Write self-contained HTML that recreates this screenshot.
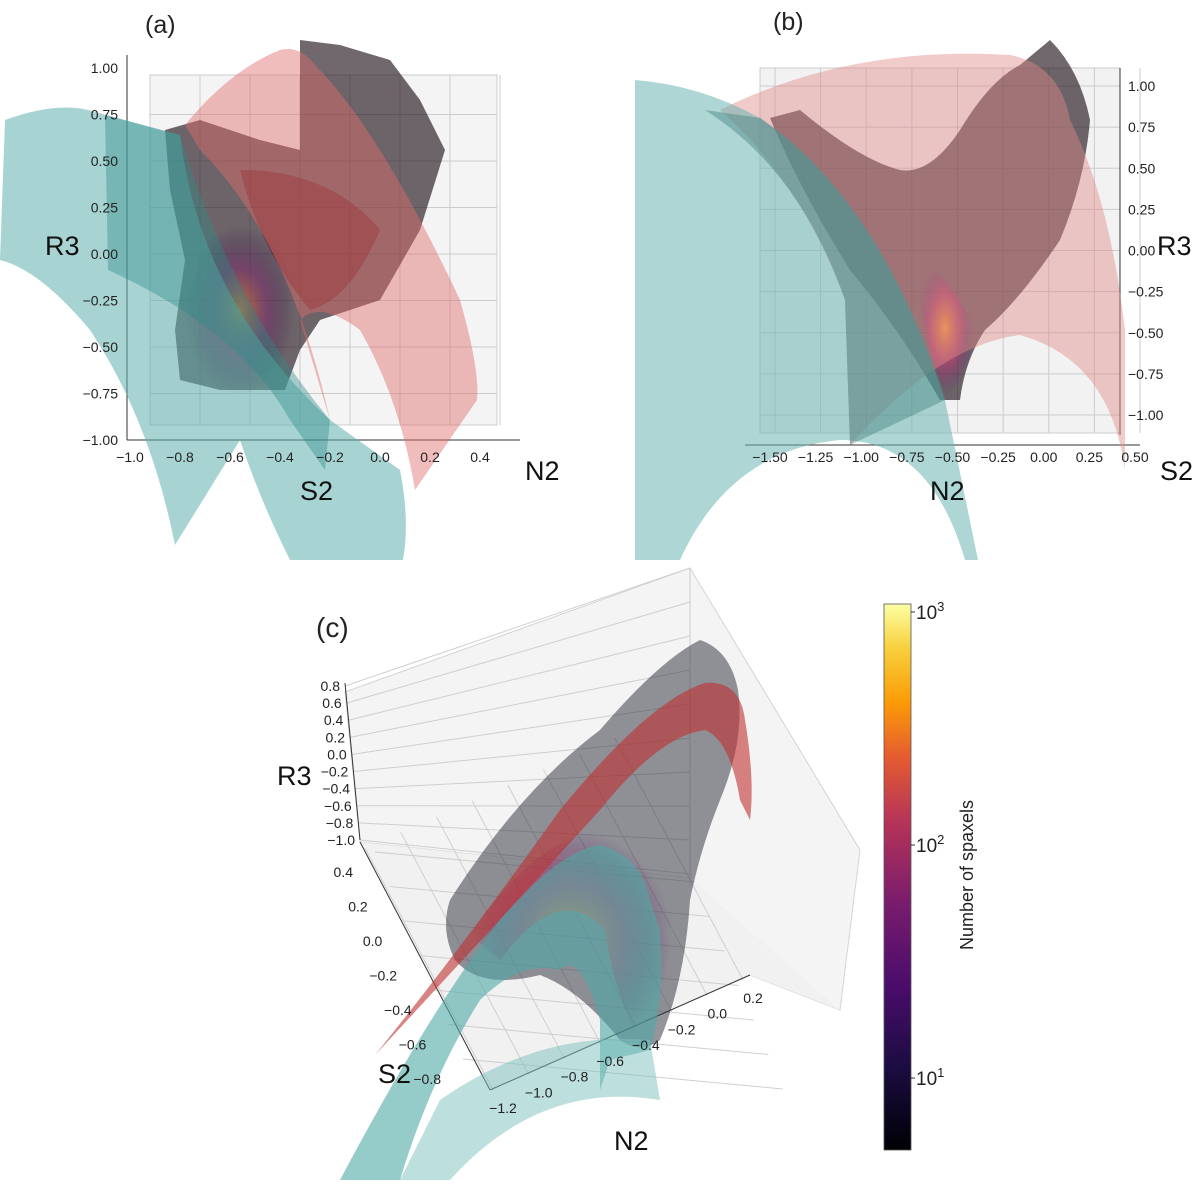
<!DOCTYPE html>
<html><head><meta charset="utf-8"><style>
html,body{margin:0;padding:0;background:#fff}
svg{display:block;font-family:"Liberation Sans","DejaVu Sans",sans-serif}
.t{font-size:14px;fill:#222}
.lab{font-size:27px;fill:#111}
</style></head><body>
<svg id="fig" width="1200" height="1191" viewBox="0 0 1200 1191">
<defs>
<linearGradient id="inferno" x1="0" y1="1" x2="0" y2="0">
<stop offset="0" stop-color="#000004"/><stop offset="0.15" stop-color="#1b0c41"/><stop offset="0.3" stop-color="#4a0c6b"/><stop offset="0.45" stop-color="#781c6d"/><stop offset="0.6" stop-color="#b53359"/><stop offset="0.72" stop-color="#e55c30"/><stop offset="0.82" stop-color="#fb9b06"/><stop offset="0.92" stop-color="#f7d13d"/><stop offset="1" stop-color="#fcffa4"/>
</linearGradient>
<radialGradient id="hotA" cx="0.5" cy="0.5" r="0.5"><stop offset="0" stop-color="#d07a30" stop-opacity="0.8"/><stop offset="0.5" stop-color="#7a2a6a" stop-opacity="0.55"/><stop offset="1" stop-color="#2a0a40" stop-opacity="0"/></radialGradient>
<radialGradient id="hotC" cx="0.5" cy="0.5" r="0.5"><stop offset="0" stop-color="#f5a030" stop-opacity="0.95"/><stop offset="0.5" stop-color="#c04070" stop-opacity="0.7"/><stop offset="1" stop-color="#5a1a70" stop-opacity="0"/></radialGradient>
</defs>

<!-- ===== Panel A ===== -->
<g>
<rect x="150" y="75" width="347" height="350" fill="#f4f4f4" stroke="#ccc"/>
<g id="gridA" stroke="#ccc" stroke-width="1"></g>
<line x1="127" y1="55" x2="127" y2="440" stroke="#333"/>
<line x1="127" y1="440" x2="520" y2="440" stroke="#333"/>
<path d="M165,130 L200,120 L260,140 L300,150 L300,40 L340,45 L390,60 L420,100 L445,150 L420,230 L380,300 L320,320 L300,350 L285,390 L220,390 L180,380 L175,330 L185,260 L170,190 Z" fill="#1a0c14" fill-opacity="0.62"/>
<path d="M240,170 Q330,170 380,230 Q350,300 310,310 Q260,250 240,170 Z" fill="#6a0a12" fill-opacity="0.45"/>
<ellipse cx="240" cy="310" rx="55" ry="85" fill="url(#hotA)"/>
<path d="M5,120 Q60,100 95,112 L180,135 Q200,300 330,420 L400,470 Q410,520 403,560 L290,560 Q260,500 240,440 L175,545 Q150,420 90,330 Q40,270 0,260 Z" fill="#5fb0ad" fill-opacity="0.55"/>
<path d="M105,115 L180,135 Q230,300 330,420 L325,470 L290,420 Q240,330 108,270 Z" fill="#2e8a87" fill-opacity="0.4"/>
<path d="M185,125 Q230,70 280,50 Q300,45 315,65 Q380,130 460,300 Q480,370 477,400 L415,490 Q400,400 360,330 Q320,300 300,320 L330,420 Q290,240 200,150 Z" fill="#e06a6a" fill-opacity="0.45"/>
<g id="ticksA"></g>
<text class="t" x="145" y="33" style="font-size:25px">(a)</text>
<text class="lab" x="45" y="255">R3</text>
<text class="lab" x="525" y="480">N2</text>
<text class="lab" x="300" y="500">S2</text>
</g>

<!-- ===== Panel B ===== -->
<g>
<rect x="760" y="68" width="360" height="365" fill="#f2f2f2" stroke="#ccc"/>
<g id="gridB" stroke="#ccc" stroke-width="1"></g>
<line x1="745" y1="445" x2="1140" y2="445" stroke="#333"/>
<line x1="1120" y1="68" x2="1120" y2="435" stroke="#333"/>
<path d="M770,118 L800,110 Q860,160 900,170 Q930,175 960,130 Q990,80 1020,65 L1050,40 Q1080,70 1090,120 Q1085,180 1060,240 Q1020,300 985,330 Q965,360 960,400 L940,400 Q900,330 850,270 Q800,190 770,118 Z" fill="#1a0c14" fill-opacity="0.62"/>
<path d="M915,260 Q950,270 975,330 Q965,390 945,395 Q920,330 915,260 Z" fill="url(#hotC)"/>
<path d="M720,110 Q850,45 1010,55 Q1060,65 1070,120 Q1110,200 1125,330 L1125,470 Q1110,360 1020,335 Q940,345 850,445 L845,300 Q800,180 720,110 Z" fill="#e08a8a" fill-opacity="0.45"/>
<path d="M635,80 Q700,85 760,118 Q880,200 945,400 L978,560 L965,560 Q930,440 840,440 Q730,450 680,560 L635,560 Z" fill="#6bb5b2" fill-opacity="0.55"/>
<path d="M705,110 L760,118 Q880,200 945,400 L850,445 L845,300 Q800,170 705,110 Z" fill="#3a7a77" fill-opacity="0.4"/>
<g id="ticksB"></g>
<text class="t" x="773" y="30" style="font-size:25px">(b)</text>
<text class="lab" x="1157" y="255">R3</text>
<text class="lab" x="930" y="500">N2</text>
<text class="lab" x="1160" y="480">S2</text>
</g>

<!-- ===== Panel C ===== -->
<g>
<path d="M345,692 L690,568 L860,850 L840,1010 L750,975 L690,878 L360,842 Z" fill="#f4f4f4" stroke="#d4d4d4"/>
<path d="M360,842 L690,878 L840,1010 L750,975 L490,1090 Z" fill="#f1f1f1"/>
<line x1="690" y1="568" x2="690" y2="878" stroke="#ccc"/>
<g id="gridC" stroke="#cfcfcf" stroke-width="1"></g>
<line x1="345" y1="683" x2="360" y2="840" stroke="#333"/>
<line x1="360" y1="842" x2="490" y2="1090" stroke="#333"/>
<line x1="490" y1="1090" x2="750" y2="975" stroke="#333"/>
<path d="M450,900 Q520,790 600,730 Q660,660 700,640 Q730,650 738,690 Q745,740 720,800 Q700,850 690,900 Q685,980 660,1040 Q640,1055 620,1040 Q580,990 540,975 Q480,990 455,960 Q440,930 450,900 Z" fill="#2a2a38" fill-opacity="0.5"/>
<path d="M470,935 Q540,830 610,830 Q665,845 672,930 Q665,1010 645,1050 Q615,1000 605,930 Q560,880 500,960 Z" fill="url(#hotC)"/>
<path d="M375,1055 Q460,950 560,810 Q650,700 705,683 Q740,680 745,720 Q755,780 750,820 L740,800 Q730,740 705,730 Q660,735 600,810 Q500,920 375,1055 Z" fill="#c03030" fill-opacity="0.6"/>
<path d="M340,1180 Q430,1010 500,920 Q560,850 600,845 Q640,855 650,900 L660,930 Q665,1000 650,1050 L610,1060 L600,1090 L600,1020 Q580,950 560,970 Q520,960 480,1000 Q430,1080 400,1180 Z" fill="#4fa8a5" fill-opacity="0.6"/>
<path d="M440,1100 Q540,1030 650,1040 L660,1100 Q540,1080 450,1180 L400,1180 Z" fill="#7cc0bd" fill-opacity="0.5"/>
<g id="ticksC"></g>
<text class="t" x="316" y="637" style="font-size:28px">(c)</text>
<text class="lab" x="277" y="785">R3</text>
<text class="lab" x="378" y="1083">S2</text>
<text class="lab" x="614" y="1150">N2</text>
</g>

<!-- ===== Colorbar ===== -->
<g>
<rect x="884" y="604" width="27" height="546" fill="url(#inferno)" stroke="#555" stroke-width="0.8"/>
<g id="cbTicks"></g>
<text x="973" y="875" transform="rotate(-90 973 875)" text-anchor="middle" style="font-size:18px;fill:#222">Number of spaxels</text>
</g>
</svg>
<script>
const NS='http://www.w3.org/2000/svg';
// tick label arrays
const aR3Ticks=['1.00','0.75','0.50','0.25','0.00','−0.25','−0.50','−0.75','−1.00'];
const aN2Ticks=['−1.0','−0.8','−0.6','−0.4','−0.2','0.0','0.2','0.4'];
const bR3Ticks=['1.00','0.75','0.50','0.25','0.00','−0.25','−0.50','−0.75','−1.00'];
const bN2Ticks=['−1.50','−1.25','−1.00','−0.75','−0.50','−0.25','0.00','0.25','0.50'];
const cR3Ticks=['0.8','0.6','0.4','0.2','0.0','−0.2','−0.4','−0.6','−0.8','−1.0'];
const cS2Ticks=['0.4','0.2','0.0','−0.2','−0.4','−0.6','−0.8'];
const cN2Ticks=['−1.2','−1.0','−0.8','−0.6','−0.4','−0.2','0.0','0.2'];
const cbExps=['3','2','1'];

function lin(n,a,b){return i=>a+(b-a)*i/(n-1);}
function txt(g,x,y,s,anchor,name){const t=document.createElementNS(NS,'text');t.setAttribute('x',x);t.setAttribute('y',y);t.setAttribute('class','t');t.setAttribute('text-anchor',anchor);t.textContent=s;


g.appendChild(t);return t;}
function ln(g,x1,y1,x2,y2,name){const l=document.createElementNS(NS,'line');l.setAttribute('x1',x1);l.setAttribute('y1',y1);l.setAttribute('x2',x2);l.setAttribute('y2',y2);l.setAttribute('stroke',g.getAttribute('stroke')||'#333');


g.appendChild(l);}

// Panel A
let g=document.getElementById('ticksA'),gg=document.getElementById('gridA');
let fy=lin(aR3Ticks.length,68,440);
aR3Ticks.forEach((s,i)=>{const y=fy(i);txt(g,118,y+5,s,'end','panel-a-r3-tick');if(i>0&&i<aR3Ticks.length-1)ln(gg,150,y,497,y,'panel-a-grid-h');});
let fx=lin(aN2Ticks.length,130,480);
aN2Ticks.forEach((s,i)=>{const x=fx(i);txt(g,x,462,s,'middle','panel-a-n2-tick');ln(gg,x+20,75,x+20,425,'panel-a-grid-v');});
// Panel B
g=document.getElementById('ticksB');gg=document.getElementById('gridB');
fy=lin(bR3Ticks.length,86,415);
bR3Ticks.forEach((s,i)=>{const y=fy(i);txt(g,1128,y+5,s,'start','panel-b-r3-tick');ln(gg,760,y,1120,y,'panel-b-grid-h');});
fx=lin(bN2Ticks.length,770,1135);
bN2Ticks.forEach((s,i)=>{const x=fx(i);txt(g,x,462,s,'middle','panel-b-n2-tick');ln(gg,x+5,68,x+5,433,'panel-b-grid-v');});
// Panel C
g=document.getElementById('ticksC');gg=document.getElementById('gridC');
fy=lin(cR3Ticks.length,686,840);const fxr=lin(cR3Ticks.length,345,360);
cR3Ticks.forEach((s,i)=>{const y=fy(i);txt(g,fxr(i)-5,y+5,s,'end','panel-c-r3-tick');ln(gg,fxr(i),y,690,568+i*34,'panel-c-grid-r3');});
const sx=lin(cS2Ticks.length,365,453),sy=lin(cS2Ticks.length,872,1079);
cS2Ticks.forEach((s,i)=>{txt(g,sx(i)-12,sy(i)+5,s,'end','panel-c-s2-tick');ln(gg,sx(i)+10,sy(i)-20,sx(i)+330,sy(i)+10,'panel-c-grid-s2');});
const nx=lin(cN2Ticks.length,495,745),ny=lin(cN2Ticks.length,1098,988);
cN2Ticks.forEach((s,i)=>{txt(g,nx(i)+8,ny(i)+15,s,'middle','panel-c-n2-tick');ln(gg,nx(i)-2,ny(i)-8,nx(i)-130,ny(i)-250,'panel-c-grid-n2');});
// Colorbar
g=document.getElementById('cbTicks');
const cy=lin(cbExps.length,612,1078);
cbExps.forEach((e,i)=>{const y=cy(i);const t=txt(g,916,y+7,'10','start','colorbar-tick');t.style.fontSize='19px';
const sp=document.createElementNS(NS,'tspan');sp.setAttribute('dy','-8');sp.style.fontSize='13px';sp.textContent=e;t.appendChild(sp);
ln(g,911,y,915,y,'colorbar-tick-mark');});
</script>
</body></html>
